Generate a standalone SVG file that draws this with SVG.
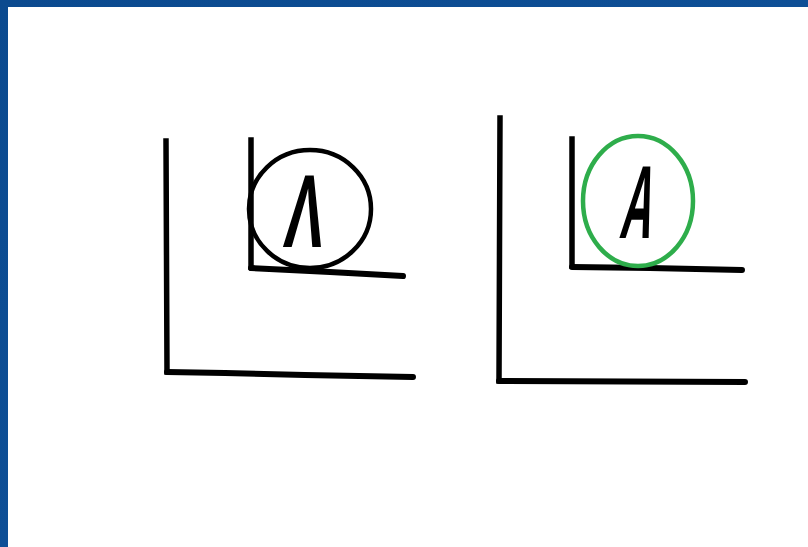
<svg xmlns="http://www.w3.org/2000/svg" width="808" height="547" viewBox="0 0 808 547">
<defs>
<linearGradient id="bg" x1="0" y1="0" x2="1" y2="1">
<stop offset="0" stop-color="#0b4a8f"/>
<stop offset="0.5" stop-color="#0e4f96"/>
<stop offset="1" stop-color="#083f7f"/>
</linearGradient>
</defs>
<style>
.ax{fill:none;stroke:#000;stroke-width:5.5;stroke-linecap:square}
.axb{fill:none;stroke:#000;stroke-width:6;stroke-linecap:round}
.glyph{font-family:"Liberation Sans","DejaVu Sans",sans-serif;font-weight:bold;fill:#000}
</style>
<rect x="0" y="0" width="808" height="547" fill="url(#bg)"/>
<rect x="8" y="7" width="800" height="540" fill="#fff"/>
<g id="left-big-axes">
<path class="ax" d="M166 141 L167 372"/>
<path class="axb" d="M167 372 L225 373 L305 375 L413 377"/>
</g>
<g id="left-small-axes">
<path class="ax" d="M251 140 L251 267"/>
<path class="axb" d="M251 268 L330 272 L403 276"/>
</g>
<g id="left-circle">
<ellipse cx="310" cy="209" rx="61" ry="59" fill="none" stroke="#000" stroke-width="4.5"/>
<text class="glyph" transform="translate(302 247) skewX(-6) scale(0.56 1)" font-size="104" text-anchor="middle">Λ</text>
</g>
<g id="right-big-axes">
<path class="ax" d="M500 118 L499 381"/>
<path class="axb" d="M499 381 L745 382"/>
</g>
<g id="right-small-axes">
<path class="ax" d="M572 139 L572 266"/>
<path class="axb" d="M572 267 L650 268 L742 270"/>
</g>
<g id="right-circle">
<ellipse cx="638" cy="201" rx="55" ry="65" fill="none" stroke="#2ead4b" stroke-width="4.5"/>
<text class="glyph" transform="translate(634 238) skewX(-10) scale(0.42 1)" font-size="104" text-anchor="middle">A</text>
</g>
</svg>
